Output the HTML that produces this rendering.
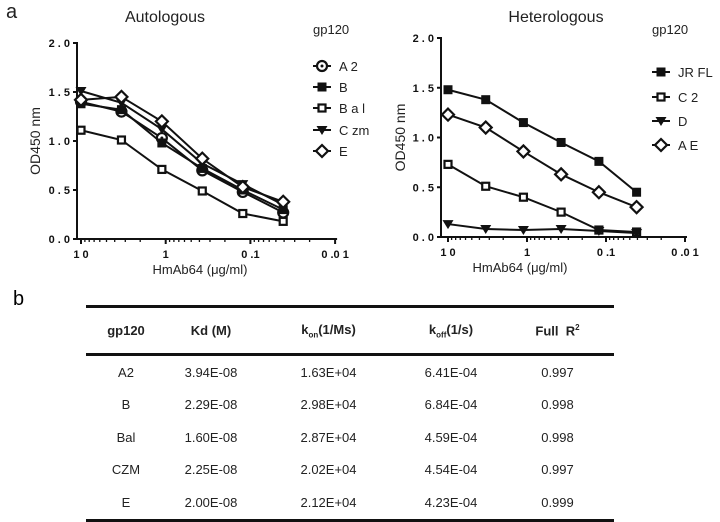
<!DOCTYPE html>
<html><head><meta charset="utf-8"><style>
body{margin:0;background:#fff;font-family:"Liberation Sans",sans-serif;}
#wrap{position:relative;width:720px;height:522px;overflow:hidden;}
table{position:absolute;left:86px;top:305px;width:528px;border-collapse:collapse;font-size:13px;color:#222;}
td,th{text-align:center;padding:0;height:32.5px;font-weight:normal;}
th{font-weight:bold;height:45px;}
thead tr{border-top:3px solid #111;border-bottom:3px solid #111;}
tbody tr:last-child{border-bottom:3px solid #111;}
sub,sup{font-size:8px;}
</style></head><body><div id="wrap">
<svg id="svg" width="720" height="300" style="position:absolute;left:0;top:0" font-family="Liberation Sans, sans-serif"></svg>
<div style="position:absolute;left:13px;top:288px;font-size:20px">b</div>
<table>
<colgroup><col style="width:80px"><col style="width:90px"><col style="width:145px"><col style="width:100px"><col style="width:113px"></colgroup>
<thead><tr><th>gp120</th><th>Kd (M)</th><th>k<sub>on</sub>(1/Ms)</th><th>k<sub>off</sub>(1/s)</th><th>Full&nbsp; R<sup>2</sup></th></tr></thead>
<tbody>
<tr><td>A2</td><td>3.94E-08</td><td>1.63E+04</td><td>6.41E-04</td><td>0.997</td></tr>
<tr><td>B</td><td>2.29E-08</td><td>2.98E+04</td><td>6.84E-04</td><td>0.998</td></tr>
<tr><td>Bal</td><td>1.60E-08</td><td>2.87E+04</td><td>4.59E-04</td><td>0.998</td></tr>
<tr><td>CZM</td><td>2.25E-08</td><td>2.02E+04</td><td>4.54E-04</td><td>0.997</td></tr>
<tr><td>E</td><td>2.00E-08</td><td>2.12E+04</td><td>4.23E-04</td><td>0.999</td></tr>
</tbody></table>
</div>
<script>
const concs=[10,3.33,1.11,0.37,0.123,0.041];
const autoNames=["A 2","B","B a l","C zm","E"];
const autoMarkers=["circle","fsquare","osquare","tri","diamond"];
const autoA2=[1.40,1.30,1.03,0.70,0.48,0.27];
const autoB=[1.38,1.32,0.98,0.72,0.50,0.30];
const autoBal=[1.11,1.01,0.71,0.49,0.26,0.18];
const autoCzm=[1.51,1.39,1.12,0.77,0.56,0.35];
const autoE=[1.42,1.45,1.20,0.82,0.53,0.38];
const hetNames=["JR FL","C 2","D","A E"];
const hetMarkers=["fsquare","osquare","tri","diamond"];
const hetJRFL=[1.48,1.38,1.15,0.95,0.76,0.45];
const hetC2=[0.73,0.51,0.40,0.25,0.07,0.05];
const hetD=[0.13,0.08,0.07,0.08,0.06,0.04];
const hetAE=[1.23,1.10,0.86,0.63,0.45,0.30];
const yTicks=[0,0.5,1.0,1.5,2.0];
const xTicks=[10,1,0.1,0.01];
const xTickLabels=["1 0","1","0 .1","0 .0 1"];

const NS="http://www.w3.org/2000/svg";
const svg=document.getElementById('svg');
function el(t,a,p){const e=document.createElementNS(NS,t);for(const k in a)e.setAttribute(k,a[k]);(p||svg).appendChild(e);return e;}
function txt(s,a,p){const e=el('text',a,p);e.textContent=s;return e;}
function marker(g,type,x,y){
  const s=4.5;let e;
  if(type==='circle'){e=el('circle',{cx:x,cy:y,r:5,fill:'#fff',stroke:'#111','stroke-width':2.2},g);el('circle',{cx:x,cy:y,r:1.5,fill:'#111'},g);}
  else if(type==='fsquare')e=el('rect',{x:x-s,y:y-s,width:2*s,height:2*s,fill:'#111'},g);
  else if(type==='osquare')e=el('rect',{x:x-s+1,y:y-s+1,width:2*s-2,height:2*s-2,fill:'#fff',stroke:'#111','stroke-width':2.2},g);
  else if(type==='tri')e=el('polygon',{points:`${x-5.5},${y-4} ${x+5.5},${y-4} ${x},${y+5}`,fill:'#111'},g);
  else e=el('polygon',{points:`${x},${y-6} ${x+6},${y} ${x},${y+6} ${x-6},${y}`,fill:'#fff',stroke:'#111','stroke-width':2.2},g);
  return e;
}
function chart(o){
  const g=el('g',{});
  
  
  const xs=v=>o.x10+(1-Math.log10(v))*o.dec;
  const ys=v=>o.y0-v*o.ppu;
  el('line',{x1:o.ax,y1:ys(2)-1,x2:o.ax,y2:o.y0,stroke:'#111','stroke-width':2},g);
  el('line',{x1:o.ax,y1:o.y0,x2:xs(0.01)+2,y2:o.y0,stroke:'#111','stroke-width':2},g);
  yTicks.forEach(t=>{el('line',{x1:o.ax-4,y1:ys(t),x2:o.ax,y2:ys(t),stroke:'#111','stroke-width':2},g);
    const l=txt(t.toFixed(1).split('').join(' '),{x:o.ax-7,y:ys(t)+4,'font-size':11,'font-weight':'bold','text-anchor':'end',fill:'#111'},g);
    });
  xTicks.forEach((t,i)=>{el('line',{x1:xs(t),y1:o.y0,x2:xs(t),y2:o.y0+5,stroke:'#111','stroke-width':2},g);
    const l=txt(xTickLabels[i],{x:xs(t),y:o.y0+19,'font-size':11,'font-weight':'bold','text-anchor':'middle',fill:'#111'},g);
    
    if(i<3)for(let m=2;m<10;m++){const v=t/10*m;el('line',{x1:xs(v),y1:o.y0,x2:xs(v),y2:o.y0+3,stroke:'#111','stroke-width':1.3},g);}
  });
  const tt=txt(o.title,{x:o.tx,y:22,'font-size':16,'text-anchor':'middle',fill:'#222'},g);
  
  const yl=txt('OD450 nm',{x:0,y:0,'font-size':14,'text-anchor':'middle',fill:'#222',transform:`translate(${o.ylx},${(ys(2)+o.y0)/2}) rotate(-90)`},g);
  
  const xl=txt('HmAb64 (μg/ml)',{x:o.xlx,y:o.y0+35,'font-size':13,'text-anchor':'middle',fill:'#222'},g);
  
  o.series.forEach((d,si)=>{
    const sg=el('g',{},g);
    
    
    el('polyline',{points:d.map((v,i)=>xs(concs[i])+','+ys(v)).join(' '),fill:'none',stroke:'#111','stroke-width':2},sg);
    d.forEach((v,i)=>{marker(sg,o.markers[si],xs(concs[i]),ys(v));});
  });
  const lt=txt('gp120',{x:o.lx-8,y:34,'font-size':13,fill:'#222'},g);
  
  o.names.forEach((n,i)=>{
    const lg=el('g',{},g);
    
    
    const y=o.ly[i];
    el('line',{x1:o.lx-8,y1:y,x2:o.lx+10,y2:y,stroke:'#111','stroke-width':2},lg);
    marker(lg,o.markers[i],o.lx+1,y);
    txt(n,{x:o.lx+18,y:y+5,'font-size':13,fill:'#222'},lg);
  });
}
chart({name:'autologous-chart',title:'Autologous',tx:165,ax:77,x10:81,dec:84.7,y0:239,ppu:98,ylx:40,xlx:200,
  series:[autoA2,autoB,autoBal,autoCzm,autoE],names:autoNames,markers:autoMarkers,lx:321,ly:[66,87,108,130,151]});
chart({name:'heterologous-chart',title:'Heterologous',tx:556,ax:441,x10:448,dec:79,y0:237,ppu:99.5,ylx:405,xlx:520,
  series:[hetJRFL,hetC2,hetD,hetAE],names:hetNames,markers:hetMarkers,lx:660,ly:[72,97,121,145]});
const a=txt('a',{x:6,y:18,'font-size':20,fill:'#222'});


</script></body></html>
